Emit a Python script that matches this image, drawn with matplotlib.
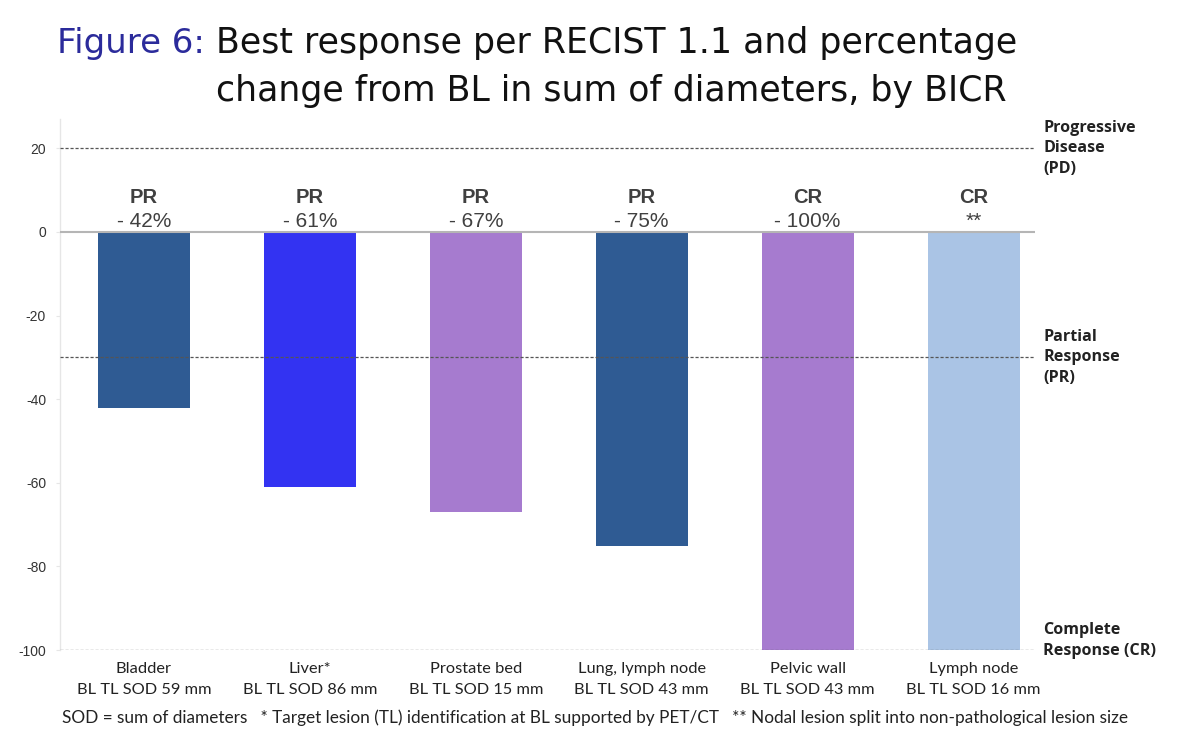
import matplotlib
matplotlib.use("Agg")
import matplotlib.pyplot as plt

sites = ["Bladder", "Liver*", "Prostate bed", "Lung, lymph node", "Pelvic wall", "Lymph node"]
baseline_sod = ["BL TL SOD 59 mm", "BL TL SOD 86 mm", "BL TL SOD 15 mm",
                "BL TL SOD 43 mm", "BL TL SOD 43 mm", "BL TL SOD 16 mm"]
pct_change = [-42, -61, -67, -75, -100, -100]
response = ["PR", "PR", "PR", "PR", "CR", "CR"]
pct_labels = ["- 42%", "- 61%", "- 67%", "- 75%", "- 100%", "**"]
bar_colors = ["#2F5B93", "#3333F2", "#A67BCF", "#2F5B93", "#A67BCF", "#AAC4E5"]
yticks = [20, 0, -20, -40, -60, -80, -100]
thresholds = [20, -30, -100]
threshold_labels = ["Progressive\nDisease\n(PD)", "Partial\nResponse\n(PR)", "Complete\nResponse (CR)"]
title_prefix = "Figure 6:"
title_lines = ["Best response per RECIST 1.1 and percentage",
               "change from BL in sum of diameters, by BICR"]
footnote = ("SOD = sum of diameters   * Target lesion (TL) identification at BL supported by PET/CT"
            "   ** Nodal lesion split into non-pathological lesion size")

W, H = 1200, 744
fig = plt.figure(figsize=(W / 100, H / 100), dpi=100)
ax = fig.add_axes([0.05, 0.1263, 0.8125, 0.7137])

x = list(range(len(sites)))
ax.bar(x, pct_change, width=0.555, color=bar_colors, zorder=2)

ax.set_xlim(-0.506, 5.37)
ax.set_ylim(-100, 27)

for y in thresholds:
    ax.axhline(y, color="#555555", lw=0.9, ls=(0, (2.5, 1.5)), zorder=3)
ax.axhline(0, color="#b5b5b5", lw=1.5, zorder=3)

for s in ["top", "right", "bottom"]:
    ax.spines[s].set_visible(False)
ax.spines["left"].set_color("#e6e6e6")
ax.spines["left"].set_linewidth(1.0)
ax.set_yticks(yticks)
ax.set_yticklabels([str(t) for t in yticks], fontsize=10, color="#333333", family="Liberation Sans")
ax.tick_params(axis="y", length=3, color="#e6e6e6", pad=7)
ax.set_xticks([])

for xi, r, p in zip(x, response, pct_labels):
    ax.text(xi, 6.9, r, ha="center", va="baseline", fontsize=14.5, fontweight="bold",
            color="#404040", family="Liberation Sans")
    ax.text(xi, 1.2, p, ha="center", va="baseline", fontsize=15,
            color="#404040", family="Liberation Sans")

for xi, s, b in zip(x, sites, baseline_sod):
    ax.text(xi, -105.5, s, ha="center", va="baseline", fontsize=11.8,
            color="#222222", family="Lato", clip_on=False)
    ax.text(xi, -110.4, b, ha="center", va="baseline", fontsize=11.8,
            color="#222222", family="Lato", clip_on=False)

tl_y = [20, -30, -97.7]
for y, lab in zip(tl_y, threshold_labels):
    ax.text(5.42, y, lab, ha="left", va="center", fontsize=11.6, fontweight="bold",
            color="#222222", family="Open Sans", linespacing=1.38, clip_on=False)

# Title: fit sizes to the reference widths
renderer = fig.canvas.get_renderer()

def fit_size(txt, target_px, family, base=25.0):
    t = fig.text(0, 0, txt, fontsize=base, family=family)
    w = t.get_window_extent(renderer).width
    t.remove()
    return base * target_px / w

fam = "DejaVu Sans"
s_prefix = fit_size(title_prefix, 148, fam)
s_main = fit_size(title_lines[1], 791, fam)
fig.text(57 / W, 1 - 53 / H, title_prefix, fontsize=s_prefix, color="#2B2B9B", family=fam,
         ha="left", va="baseline")
fig.text(216 / W, 1 - 53 / H, title_lines[0], fontsize=s_main, color="#111111", family=fam,
         ha="left", va="baseline")
fig.text(216 / W, 1 - 101 / H, title_lines[1], fontsize=s_main, color="#111111", family=fam,
         ha="left", va="baseline")

s_foot = fit_size(footnote, 1066, "Lato", base=12)
fig.text(595 / W, 1 - 723 / H, footnote, fontsize=s_foot, color="#222222", family="Lato",
         ha="center", va="baseline")

fig.savefig("out.png", dpi=100)
